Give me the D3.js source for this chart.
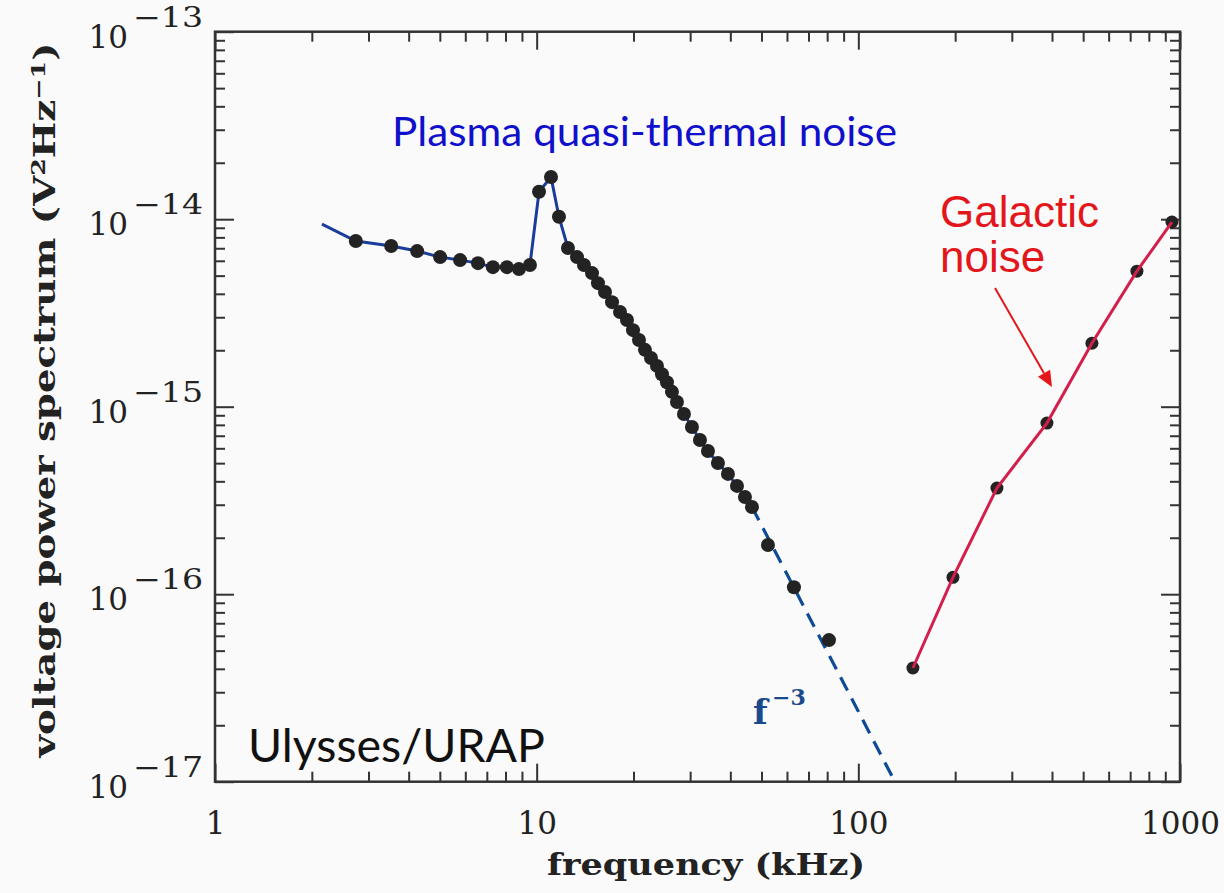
<!DOCTYPE html>
<html><head><meta charset="utf-8">
<script src="https://cdn.jsdelivr.net/npm/d3@7"></script>
<style>body{margin:0;background:#fafafa;overflow:hidden}</style>
</head><body><svg id="c" width="1224" height="893"></svg>
<script>
// ---- data ----
const qtnFreq = [2.74,3.53,4.25,5.01,5.78,6.57,7.31,8.08,8.81,9.53,10.17,11.08,11.73,12.51,13.35,14.03,14.86,15.51,16.31,17.15,18.16,19.09,19.93,20.80,21.71,22.67,23.66,24.52,25.41,26.34,27.30,28.70,30.39,32.18,34.08,36.60,39.32,41.95,44.42,46.70,52.36,63.07,81.04];
const qtnPSD = [7.65e-15,7.20e-15,6.76e-15,6.28e-15,6.05e-15,5.83e-15,5.55e-15,5.55e-15,5.42e-15,5.70e-15,1.40e-14,1.68e-14,1.03e-14,7.02e-15,6.28e-15,5.70e-15,5.16e-15,4.56e-15,4.09e-15,3.61e-15,3.20e-15,2.90e-15,2.56e-15,2.27e-15,2.01e-15,1.82e-15,1.65e-15,1.49e-15,1.35e-15,1.20e-15,1.06e-15,9.14e-16,7.79e-16,6.64e-16,5.80e-16,5.01e-16,4.38e-16,3.78e-16,3.30e-16,2.92e-16,1.83e-16,1.09e-16,5.69e-17];
const fitFreq = [2.15,2.74,3.53,4.25,5.01,5.78,6.57,7.31,8.08,8.81,9.53,10.17,11.08,11.73,12.51,13.35,14.03,14.86,15.51,16.31,17.15,18.16,19.09,19.93,20.80,21.71,22.67,23.66,24.52,25.41,26.34,27.30,28.70,30.39,32.18,34.08,36.60,39.32,41.95,44.42,46.70];
const fitPSD = [9.42e-15,7.65e-15,7.20e-15,6.76e-15,6.28e-15,6.05e-15,5.83e-15,5.55e-15,5.55e-15,5.42e-15,5.70e-15,1.40e-14,1.68e-14,1.03e-14,7.02e-15,6.28e-15,5.70e-15,5.16e-15,4.56e-15,4.09e-15,3.61e-15,3.20e-15,2.90e-15,2.56e-15,2.27e-15,2.01e-15,1.82e-15,1.65e-15,1.49e-15,1.35e-15,1.20e-15,1.06e-15,9.14e-16,7.79e-16,6.64e-16,5.80e-16,5.01e-16,4.38e-16,3.78e-16,3.30e-16,2.92e-16];
const powerLawFreq = [46.70,129.9];
const powerLawPSD = [2.92e-16,1.0e-17];
const galFreq = [147.8,196.9,269.7,385.8,532.3,734.6,943.9];
const galPSD = [4.04e-17,1.23e-16,3.68e-16,8.18e-16,2.18e-15,5.28e-15,9.66e-15];
const xTickValues = [1,10,100,1000];
const xTickLabels = ["1","10","100","1000"];
const yTickExponents = [-13,-14,-15,-16,-17];
const yTickBase = "10";

// ---- layout ----
const svg = d3.select("#c");
const L=215, R=1180, T=31.7, B=781.7;
const x = d3.scaleLog().domain([1,1000]).range([L,R]);
const y = d3.scaleLog().domain([1e-17,1e-13]).range([B,T]);
const axisColor="#333";

svg.append("defs").append("clipPath").attr("id","clip")
  .append("rect").attr("x",L).attr("y",T).attr("width",R-L).attr("height",B-T);

const xMinor=[], yMinor=[];
[1,10,100].forEach(d=>{for(let k=2;k<=9;k++) xMinor.push(k*d);});
[-17,-16,-15,-14].forEach(e=>{for(let k=2;k<=9;k++) yMinor.push(k*Math.pow(10,e));});
const yMajor = yTickExponents.map(e=>Math.pow(10,e));

function styleAxis(g){
  g.select(".domain").remove();
  g.selectAll("line").attr("stroke",axisColor).attr("stroke-width",2);
}
svg.append("g").attr("transform",`translate(0,${B})`)
  .call(d3.axisBottom(x).tickValues(xTickValues).tickSizeInner(-18).tickSizeOuter(0).tickPadding(30)
    .tickFormat((d,i)=>xTickLabels[i]))
  .call(styleAxis)
  .call(g=>g.selectAll("text").attr("fill","#222").style("font-family","DejaVu Serif").style("font-size","31px"));
svg.append("g").attr("transform",`translate(0,${B})`)
  .call(d3.axisBottom(x).tickValues(xMinor).tickSizeInner(-10).tickSizeOuter(0).tickFormat(""))
  .call(styleAxis);
svg.append("g").attr("transform",`translate(0,${T})`)
  .call(d3.axisTop(x).tickValues(xTickValues).tickSizeInner(-18).tickSizeOuter(0).tickFormat(""))
  .call(styleAxis);
svg.append("g").attr("transform",`translate(0,${T})`)
  .call(d3.axisTop(x).tickValues(xMinor).tickSizeInner(-10).tickSizeOuter(0).tickFormat(""))
  .call(styleAxis);
svg.append("g").attr("transform",`translate(${L},0)`)
  .call(d3.axisLeft(y).tickValues(yMajor).tickSizeInner(-19).tickSizeOuter(0).tickFormat(""))
  .call(styleAxis);
svg.append("g").attr("transform",`translate(${L},0)`)
  .call(d3.axisLeft(y).tickValues(yMinor).tickSizeInner(-10).tickSizeOuter(0).tickFormat(""))
  .call(styleAxis);
svg.append("g").attr("transform",`translate(${R},0)`)
  .call(d3.axisRight(y).tickValues(yMajor).tickSizeInner(-19).tickSizeOuter(0).tickFormat(""))
  .call(styleAxis);
svg.append("g").attr("transform",`translate(${R},0)`)
  .call(d3.axisRight(y).tickValues(yMinor).tickSizeInner(-10).tickSizeOuter(0).tickFormat(""))
  .call(styleAxis);
svg.append("rect").attr("x",L).attr("y",T).attr("width",R-L).attr("height",B-T)
  .attr("fill","none").attr("stroke",axisColor).attr("stroke-width",2.5);

// y tick labels 10^-n
const yl = svg.append("g").style("font-family","DejaVu Serif").attr("fill","#222");
yTickExponents.forEach(e=>{
  const yy = y(Math.pow(10,e));
  yl.append("text").attr("x",128).attr("y",yy+16).attr("text-anchor","end")
    .style("font-size","31px").text(yTickBase);
  yl.append("text").attr("x",203).attr("y",yy-5).attr("text-anchor","end")
    .style("font-size","28px").attr("textLength",70).attr("lengthAdjust","spacingAndGlyphs")
    .text("\u2212"+Math.abs(e));
});

// axis titles
svg.append("text").attr("x",706).attr("y",875).attr("text-anchor","middle")
  .style("font-family","DejaVu Serif").style("font-size","30px").style("font-weight","bold").attr("fill","#222")
  .attr("textLength",318).attr("lengthAdjust","spacingAndGlyphs")
  .text("frequency (kHz)");
const yt = svg.append("text").attr("transform",`translate(55,${400}) rotate(-90)`).attr("text-anchor","middle")
  .style("font-family","DejaVu Serif").style("font-size","29px").style("font-weight","bold").attr("fill","#222")
  .attr("textLength",715).attr("lengthAdjust","spacingAndGlyphs");
yt.append("tspan").text("voltage power spectrum (V");
yt.append("tspan").attr("dy",-10).style("font-size","19px").text("2");
yt.append("tspan").attr("dy",10).text("Hz");
yt.append("tspan").attr("dy",-10).style("font-size","19px").text("\u22121");
yt.append("tspan").attr("dy",10).text(")");

// ---- marks ----
const plot = svg.append("g").attr("clip-path","url(#clip)");
const line = d3.line().x(d=>x(d[0])).y(d=>y(d[1]));
const fitData = fitFreq.map((f,i)=>[f,fitPSD[i]]);
plot.append("path").datum(fitData).attr("d",line).attr("fill","none")
  .attr("stroke","#1a3d9c").attr("stroke-width",3);
plot.append("path").datum(powerLawFreq.map((f,i)=>[f,powerLawPSD[i]])).attr("d",line).attr("fill","none")
  .attr("stroke","#0f4b94").attr("stroke-width",3.2).attr("stroke-dasharray","15,9");
plot.selectAll("circle.q").data(qtnFreq.map((f,i)=>[f,qtnPSD[i]])).enter().append("circle")
  .attr("class","q").attr("cx",d=>x(d[0])).attr("cy",d=>y(d[1])).attr("r",7).attr("fill","#232323");

const galData = galFreq.map((f,i)=>[f,galPSD[i]]);
plot.selectAll("circle.g").data(galData).enter().append("circle")
  .attr("class","g").attr("cx",d=>x(d[0])).attr("cy",d=>y(d[1])).attr("r",6.5).attr("fill","#232323");
plot.append("path").datum(galData).attr("d",line).attr("fill","none")
  .attr("stroke","#d21f4b").attr("stroke-width",3);

// ---- annotations ----
svg.append("text").attr("x",392).attr("y",146)
  .style("font-family","Lato").style("font-size","40px").attr("fill","#1010cc")
  .attr("textLength",505).attr("lengthAdjust","spacingAndGlyphs")
  .text("Plasma quasi-thermal noise");
const gal = svg.append("g").style("font-family","Liberation Sans").style("font-size","44px").attr("fill","#e3161b");
gal.append("text").attr("x",940).attr("y",227).text("Galactic");
gal.append("text").attr("x",940).attr("y",272).text("noise");
const a0=[995,288], a1=[1052,387];
const ang=Math.atan2(a1[1]-a0[1],a1[0]-a0[0]);
const hl=16, hw=7;
const bx=a1[0]-hl*Math.cos(ang), by=a1[1]-hl*Math.sin(ang);
svg.append("line").attr("x1",a0[0]).attr("y1",a0[1]).attr("x2",bx).attr("y2",by)
  .attr("stroke","#e3161b").attr("stroke-width",2);
svg.append("path").attr("d",`M${a1[0]},${a1[1]} L${bx+hw*Math.sin(ang)},${by-hw*Math.cos(ang)} L${bx-hw*Math.sin(ang)},${by+hw*Math.cos(ang)} Z`)
  .attr("fill","#e3161b");

svg.append("text").attr("x",248).attr("y",762)
  .style("font-family","Lato").style("font-size","46px").attr("fill","#111")
  .attr("textLength",297).attr("lengthAdjust","spacingAndGlyphs")
  .text("Ulysses/URAP");
const fl = svg.append("g").style("font-family","DejaVu Serif").style("font-weight","bold").attr("fill","#1a4a8c");
fl.append("text").attr("x",753).attr("y",724).style("font-size","34px").text("f");
fl.append("text").attr("x",772).attr("y",705).style("font-size","22px").text("\u22123");
</script></body></html>
